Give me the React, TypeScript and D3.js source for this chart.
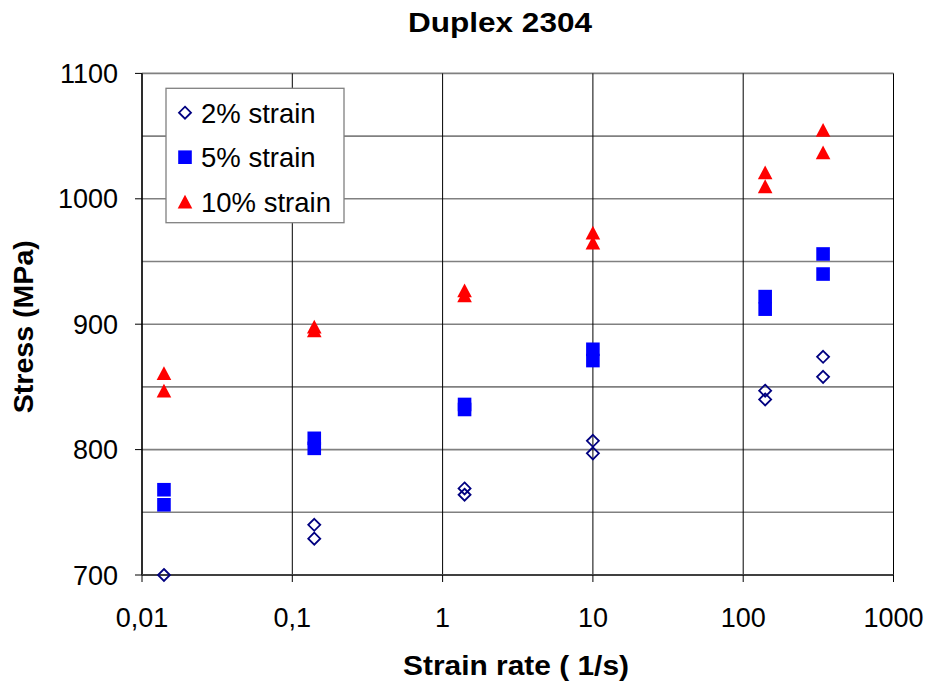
import React from "react";
import * as d3 from "d3";

const title = "Duplex 2304";
const xTitle = "Strain rate ( 1/s)";
const yTitle = "Stress (MPa)";

const xTicks = [0.01, 0.1, 1, 10, 100, 1000];
const xTickLabels = ["0,01", "0,1", "1", "10", "100", "1000"];
const yTicks = [700, 800, 900, 1000, 1100];
const yGrid = [700, 750, 800, 850, 900, 950, 1000, 1050, 1100];

const rate2 = [0.014, 0.14, 0.14, 1.4, 1.4, 10, 10, 140, 140, 340, 340];
const stress2 = [700, 740, 729, 769, 764, 807, 797, 847, 840, 874, 858];

const rate5 = [0.014, 0.014, 0.14, 0.14, 1.4, 1.4, 10, 10, 140, 140, 340, 340];
const stress5 = [768, 756, 809, 801, 836, 832, 880, 871, 922, 912, 956, 940];

const rate10 = [0.014, 0.014, 0.14, 0.14, 1.4, 1.4, 10, 10, 140, 140, 340, 340];
const stress10 = [861, 847, 898, 895, 927, 923, 973, 965, 1021, 1010, 1055, 1037];

const seriesNames = ["2% strain", "5% strain", "10% strain"];

const W = 926;
const H = 683;
const FONT = "'Liberation Sans', Arial, sans-serif";

const diamondPath = "M0,-6L6,0L0,6L-6,0Z";
const squarePath = "M-6.8,-6.8H6.8V6.8H-6.8Z";
const trianglePath = "M0,-6.9L7.3,6.9L-7.3,6.9Z";

function Marker({ kind, x, y }: { kind: number; x: number; y: number }) {
  if (kind === 0)
    return (
      <path d={diamondPath} transform={`translate(${x},${y})`} fill="none" stroke="#000080" strokeWidth={1.8} />
    );
  if (kind === 1)
    return <path d={squarePath} transform={`translate(${x},${y})`} fill="#0000FF" />;
  return <path d={trianglePath} transform={`translate(${x},${y})`} fill="#FF0000" />;
}

export default function App() {
  const left = 142;
  const right = 893.5;
  const top = 73.4;
  const bottom = 575;
  const x = d3.scaleLog().domain([0.01, 1000]).range([left, right]);
  const y = d3.scaleLinear().domain([700, 1100]).range([bottom, top]);

  const series = [
    { xs: rate2, ys: stress2 },
    { xs: rate5, ys: stress5 },
    { xs: rate10, ys: stress10 },
  ];

  return (
    <svg
      width={W}
      height={H}
      style={{ position: "absolute", left: 0, top: 0, background: "#fff" }}
      fontFamily={FONT}
    >
      <rect width={W} height={H} fill="#fff" />
      {/* horizontal gridlines */}
      {yGrid.map((v) => (
        <line key={"hg" + v} x1={left} x2={right} y1={y(v)} y2={y(v)} stroke="#808080" strokeWidth={1.6} />
      ))}
      {/* vertical gridlines */}
      {xTicks.map((v) => (
        <line key={"vg" + v} x1={x(v)} x2={x(v)} y1={top} y2={bottom} stroke="#000" strokeWidth={1} />
      ))}
      {/* axes */}
      <line x1={left} x2={left} y1={top} y2={bottom} stroke="#000" strokeWidth={1.3} />
      <line x1={left} x2={right} y1={bottom} y2={bottom} stroke="#404040" strokeWidth={2} />
      {yTicks.map((v) => (
        <g key={"yt" + v}>
          <line x1={left - 7} x2={left} y1={y(v)} y2={y(v)} stroke="#000" strokeWidth={1} />
          <text x={118} y={y(v) + 9.5} textAnchor="end" fontSize={27}>
            {v}
          </text>
        </g>
      ))}
      {xTicks.map((v, i) => (
        <g key={"xt" + v}>
          <line x1={x(v)} x2={x(v)} y1={bottom} y2={bottom + 7} stroke="#000" strokeWidth={1} />
          <text x={x(v)} y={627} textAnchor="middle" fontSize={27}>
            {xTickLabels[i]}
          </text>
        </g>
      ))}
      {/* points */}
      {series.map((s, k) =>
        s.xs.map((xv, i) => <Marker key={k + "-" + i} kind={k} x={x(xv)} y={y(s.ys[i])} />)
      )}
      {/* legend */}
      <rect x={166} y={88.3} width={178} height={134.4} fill="#fff" stroke="#808080" strokeWidth={1.3} />
      {seriesNames.map((n, i) => (
        <g key={"lg" + i}>
          <Marker kind={i} x={185} y={112.7 + i * 44.5} />
          <text x={201} y={122.7 + i * 44.5} fontSize={27.5}>
            {n}
          </text>
        </g>
      ))}
      {/* titles */}
      <text
        x={500}
        y={31.7}
        textAnchor="middle"
        fontSize={27}
        fontWeight="bold"
        textLength={184}
        lengthAdjust="spacingAndGlyphs"
      >
        {title}
      </text>
      <text
        x={516}
        y={675.3}
        textAnchor="middle"
        fontSize={28}
        fontWeight="bold"
        textLength={226}
        lengthAdjust="spacingAndGlyphs"
      >
        {xTitle}
      </text>
      <text
        transform={`translate(33.3,326.7) rotate(-90)`}
        textAnchor="middle"
        fontSize={28.5}
        fontWeight="bold"
        textLength={173}
        lengthAdjust="spacingAndGlyphs"
      >
        {yTitle}
      </text>
    </svg>
  );
}
